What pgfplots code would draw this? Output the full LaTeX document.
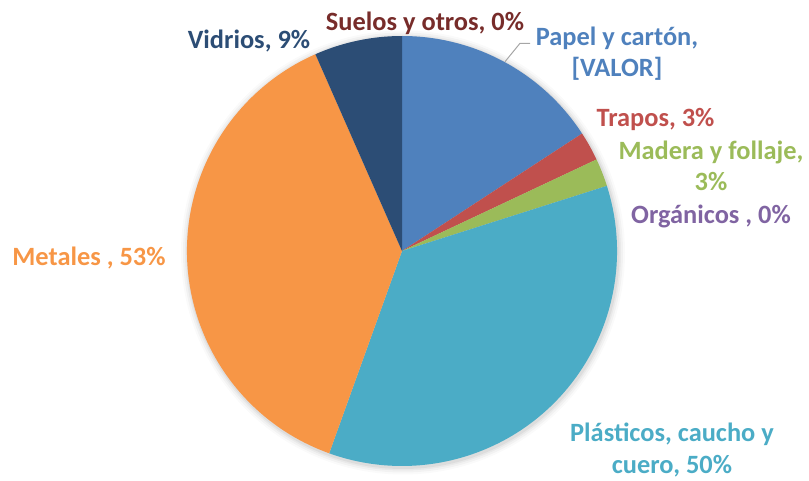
\documentclass[border=0pt]{standalone}
\usepackage{pgfplots}
\usepackage{pgfplotstable}
\pgfplotsset{compat=1.18}
\usepackage{fontspec}
\setmainfont{Carlito}
\definecolor{cPapel}{HTML}{4F81BD}
\definecolor{cTrapos}{HTML}{C0504D}
\definecolor{cMadera}{HTML}{9BBB59}
\definecolor{cOrg}{HTML}{8064A2}
\definecolor{cPlas}{HTML}{4BACC6}
\definecolor{cMet}{HTML}{F79646}
\definecolor{cVid}{HTML}{2C4D75}
\definecolor{cSue}{HTML}{772C2A}
\definecolor{leader}{HTML}{A6A6A6}
\tikzset{lbl/.style={font=\fontsize{26.4}{31.5}\selectfont\bfseries, anchor=base, align=center, inner sep=0pt}}

\pgfplotstableread{
label value color
Papel 15.8 cPapel
Trapos 2.2 cTrapos
Madera 2.1 cMadera
Organicos 0 cOrg
Plasticos 35.4 cPlas
Metales 37.9 cMet
Vidrios 6.6 cVid
Suelos 0 cSue
}\piedata

\begin{document}
\begin{tikzpicture}
\begin{axis}[
  x=1pt, y=1pt,
  xmin=0, xmax=809, ymin=0, ymax=480,
  scale only axis, hide axis, clip=false,
]
\path (axis cs:0,0) rectangle (axis cs:809,480);
% soft shadow
\foreach \r/\o in {222/0.02,220/0.03,218/0.04,216.5/0.05}{
  \edef\temp{\noexpand\fill[black, opacity=\o] (axis cs:403,227.5) circle[radius=\r pt];}
  \temp
}
\pgfplotstablegetrowsof{\piedata}
\pgfmathtruncatemacro\N{\pgfplotsretval-1}
\gdef\cum{90}
\pgfplotsforeachungrouped \i in {0,...,\N}{
  \pgfplotstablegetelem{\i}{value}\of\piedata \let\v\pgfplotsretval
  \pgfplotstablegetelem{\i}{color}\of\piedata \let\c\pgfplotsretval
  \pgfmathsetmacro\endang{\cum - 3.6*\v}
  \pgfmathparse{\v>0 ? 1 : 0}
  \ifnum\pgfmathresult=1
    \edef\temp{\noexpand\fill[\c] (axis cs:402,229) -- ++(\cum:215pt) arc[start angle=\cum, end angle=\endang, radius=215pt] -- cycle;}
    \temp
  \fi
  \global\let\cum\endang
}
% leader line
\draw[leader, line width=1pt] (axis cs:505,418.3) -- (axis cs:520,436.7) -- (axis cs:530,436.7);
% labels
\node[lbl, text=cSue] at (axis cs:425,449) {Suelos y otros, 0\%};
\node[lbl, text=cPapel] at (axis cs:617,403) {Papel y cartón,\\ {[VALOR]}};
\node[lbl, text=cVid] at (axis cs:249,431.7) {Vidrios, 9\%};
\node[lbl, text=cTrapos] at (axis cs:655.5,353.3) {Trapos, 3\%};
\node[lbl, text=cMadera] at (axis cs:711,289) {Madera y follaje,\\ 3\%};
\node[lbl, text=cOrg] at (axis cs:711,256.7) {Orgánicos , 0\%};
\node[lbl, text=cMet] at (axis cs:89,214) {Metales , 53\%};
\node[lbl, text=cPlas] at (axis cs:672,7) {Plásticos, caucho y\\ cuero, 50\%};
\end{axis}
\end{tikzpicture}
\end{document}
